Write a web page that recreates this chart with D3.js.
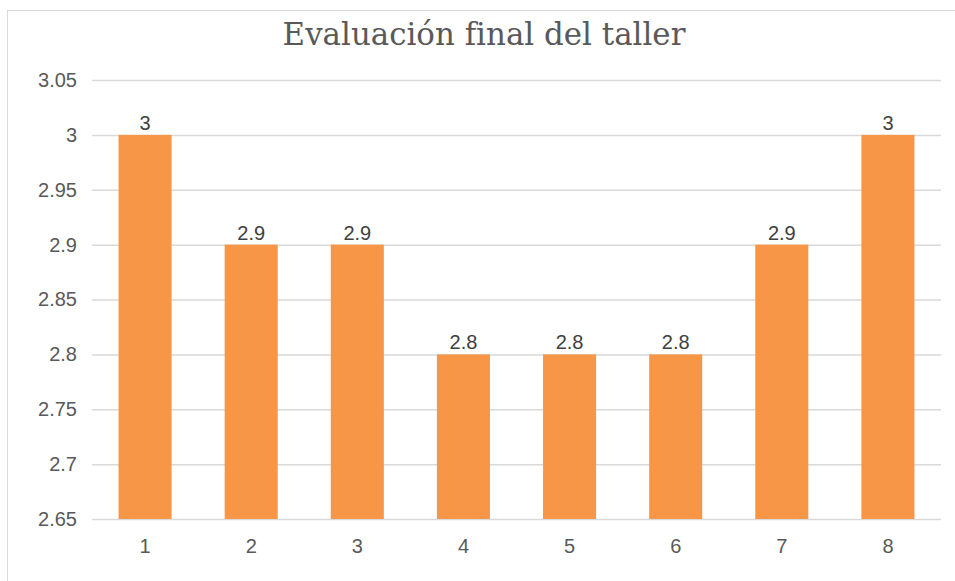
<!DOCTYPE html>
<html lang="es">
<head>
<meta charset="utf-8">
<script src="https://d3js.org/d3.v7.min.js"></script>
<style>
  body { margin: 0; background: #fff; }
  .tick text { font-family: "Liberation Sans", Arial, sans-serif; }
</style>
</head>
<body>
<svg id="chart" width="955" height="581"></svg>
<script>
// datos del grafico
const categories = ["1", "2", "3", "4", "5", "6", "7", "8"];
const values = [3, 2.9, 2.9, 2.8, 2.8, 2.8, 2.9, 3];
const yTicks = [2.65, 2.7, 2.75, 2.8, 2.85, 2.9, 2.95, 3, 3.05];

const svg = d3.select("#chart");
const margin = { top: 80, right: 14, bottom: 62, left: 92 };
const width = 955 - margin.left - margin.right;
const height = 519 - margin.top;

// marco del grafico
svg.append("rect")
  .attr("x", 7.5).attr("y", 10.5)
  .attr("width", 960).attr("height", 580)
  .attr("fill", "#fff")
  .attr("stroke", "#d9d9d9");

const title = svg.append("text")
  .attr("x", 484).attr("y", 45)
  .attr("text-anchor", "middle")
  .style("font-family", "'DejaVu Serif', 'Liberation Serif', serif")
  .style("font-size", "30px")
  .attr("fill", "#595959")
  .text("Evaluación final del taller");
// ajustar tamano al ancho del titulo original (~403px)
const tw = title.node().getComputedTextLength();
title.style("font-size", (30 * 403 / tw) + "px");

const g = svg.append("g").attr("transform", `translate(${margin.left},${margin.top})`);

const x = d3.scaleBand().domain(categories).range([0, width]).paddingInner(0.5).paddingOuter(0.25);
const y = d3.scaleLinear().domain([2.65, 3.05]).range([height, 0]);

// lineas de cuadricula + eje y
const yAxis = g.append("g")
  .call(d3.axisLeft(y).tickValues(yTicks).tickSize(-width).tickPadding(15)
    .tickFormat(d => d3.format("")(+d.toFixed(2))));
yAxis.select(".domain").remove();
yAxis.selectAll(".tick line").attr("stroke", "#d9d9d9").attr("stroke-width", 1.5);
yAxis.selectAll(".tick text").attr("fill", "#595959").style("font-size", "20px");

g.selectAll("rect.bar").data(values)
  .join("rect")
  .attr("class", "bar")
  .attr("x", (d, i) => x(categories[i]))
  .attr("y", d => y(d))
  .attr("width", x.bandwidth())
  .attr("height", d => height - y(d))
  .attr("fill", "#f79646");

g.selectAll("text.lbl").data(values)
  .join("text")
  .attr("class", "lbl")
  .attr("x", (d, i) => x(categories[i]) + x.bandwidth() / 2)
  .attr("y", d => y(d) - 5)
  .attr("text-anchor", "middle")
  .style("font-family", "'Liberation Sans', Arial, sans-serif")
  .style("font-size", "20px")
  .attr("fill", "#404040")
  .text(d => d);

const xAxis = g.append("g")
  .attr("transform", `translate(0,${height})`)
  .call(d3.axisBottom(x).tickSize(0).tickPadding(20));
xAxis.select(".domain").remove();
xAxis.selectAll(".tick text").attr("fill", "#595959").style("font-size", "20px");
</script>
</body>
</html>
